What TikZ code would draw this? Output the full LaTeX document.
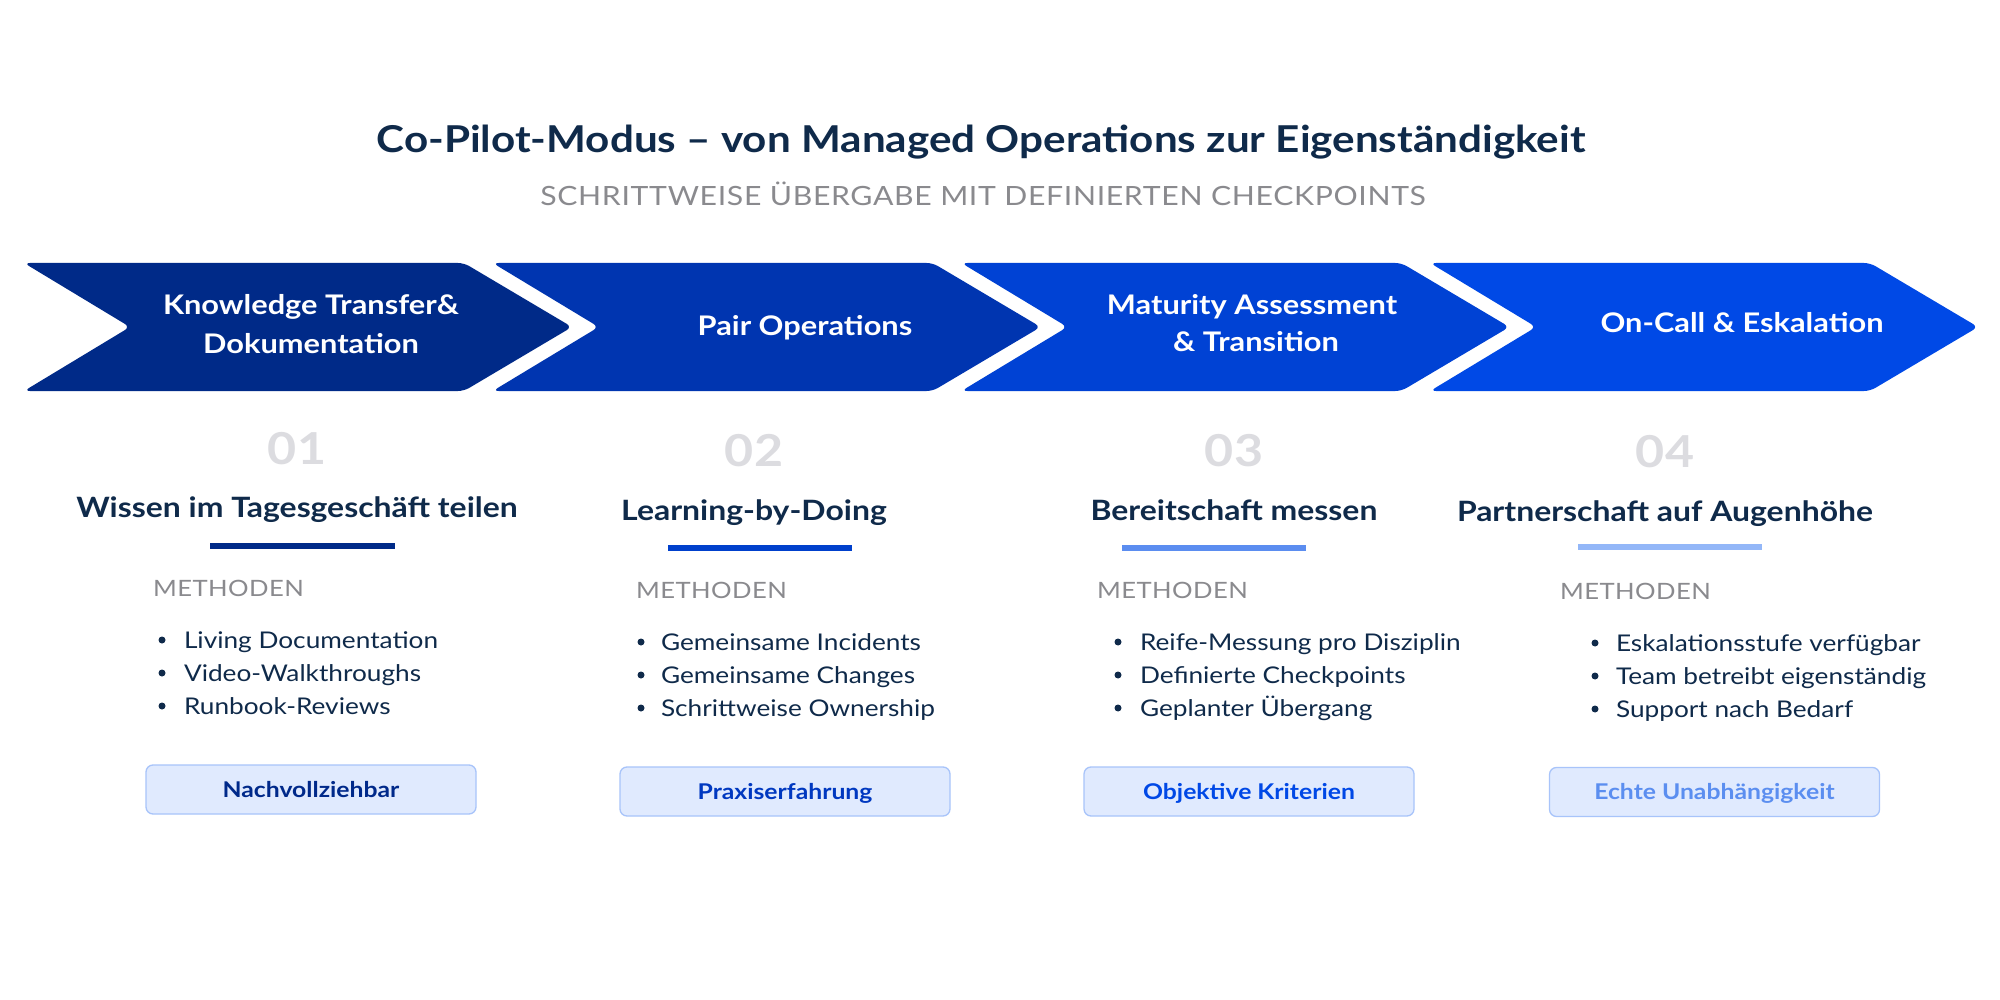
\documentclass[tikz,border=0pt]{standalone}
\usepackage{fontspec}
\setmainfont{Lato}[FakeStretch=1.14]
\definecolor{tnavy}{HTML}{0F2A4A}
\definecolor{tgray}{HTML}{8A8A8E}
\definecolor{numgray}{HTML}{DCDCE0}
\definecolor{chA}{HTML}{002A88}
\definecolor{chB}{HTML}{0035B0}
\definecolor{chC}{HTML}{0042D4}
\definecolor{chD}{HTML}{0049E6}
\definecolor{barA}{HTML}{002A88}
\definecolor{barB}{HTML}{0040CC}
\definecolor{barC}{HTML}{5B8DF0}
\definecolor{barD}{HTML}{93B7F8}
\definecolor{badgefill}{HTML}{E0EAFE}
\definecolor{badgeline}{HTML}{A8C4FA}
\definecolor{bA}{HTML}{00298A}
\definecolor{bB}{HTML}{0038C0}
\definecolor{bC}{HTML}{0048E6}
\definecolor{bD}{HTML}{5B8EF0}
\begin{document}
\begin{tikzpicture}[x=1pt,y=-1pt,
  every node/.style={inner sep=0pt, outer sep=0pt},
  titletext/.style={font=\fontsize{37}{44}\selectfont\bfseries, text=tnavy, anchor=base},
  subtext/.style={font=\fontsize{26.5}{31}\selectfont\addfontfeature{LetterSpace=2.5}, text=tgray, anchor=base},
  chevlabel/.style={font=\fontsize{27}{32}\selectfont\bfseries, text=white, anchor=base},
  numtext/.style={font=\fontsize{44}{53}\selectfont\bfseries, text=numgray, anchor=base},
  headtext/.style={font=\fontsize{28}{33}\selectfont\bfseries, text=tnavy, anchor=base},
  methtext/.style={font=\fontsize{22.5}{27}\selectfont\addfontfeature{LetterSpace=2}, text=tgray, anchor=base west},
  itemtext/.style={font=\fontsize{23}{28}\selectfont, text=tnavy, anchor=base west},
  badgebox/.style={draw=badgeline, fill=badgefill, line width=1.3pt, rounded corners=7pt,
     minimum width=330pt, minimum height=49pt, text height=15.5pt, text depth=0pt,
     font=\fontsize{21.7}{26}\selectfont\bfseries},
  dot/.style={fill=tnavy}
]
\useasboundingbox[fill=white] (0,0) rectangle (2000,1000);

% title
\node[titletext] (title) at (981,153) {Co-Pilot-Modus – von Managed Operations zur Eigenständigkeit};
\node[subtext] (subtitle) at (983,206) {SCHRITTWEISE ÜBERGABE MIT DEFINIERTEN CHECKPOINTS};

% chevrons
\foreach \L/\c in {24/chA, 492.7/chB, 961.4/chC, 1430.1/chD}{
  \fill[\c, rounded corners=6pt] (\L,263) -- (\L+440,263) -- (\L+548,327) -- (\L+440,391) -- (\L,391) -- (\L+106,327) -- cycle;
}
\node[chevlabel] (c1a) at (311,315) {Knowledge Transfer\&};
\node[chevlabel] (c1b) at (311,353) {Dokumentation};
\node[chevlabel] (c2) at (805,335) {Pair Operations};
\node[chevlabel] (c3a) at (1252,315) {Maturity Assessment};
\node[chevlabel] (c3b) at (1256,352) {\& Transition};
\node[chevlabel] (c4) at (1742,332) {On-Call \& Eskalation};

% column 1
\node[numtext] (n1) at (297,464) {01};
\node[headtext] (h1) at (297,517) {Wissen im Tagesgeschäft teilen};
\fill[barA] (210,543) rectangle (395,549);
\node[methtext] (m1) at (153,596) {METHODEN};
\fill[dot] (162,640) circle (3.5);
\fill[dot] (162,673) circle (3.5);
\fill[dot] (162,706) circle (3.5);
\node[itemtext] (i11) at (184,648) {Living Documentation};
\node[itemtext] (i12) at (184,681) {Video-Walkthroughs};
\node[itemtext] (i13) at (184,714) {Runbook-Reviews};
\node[badgebox, text=bA] (b1) at (311,789.5) {Nachvollziehbar};

% column 2
\node[numtext] (n2) at (754,466) {02};
\node[headtext] (h2) at (754,520) {Learning-by-Doing};
\fill[barB] (668,545) rectangle (852,551);
\node[methtext] (m2) at (636,598) {METHODEN};
\fill[dot] (641,642) circle (3.5);
\fill[dot] (641,675) circle (3.5);
\fill[dot] (641,708) circle (3.5);
\node[itemtext] (i21) at (661,650) {Gemeinsame Incidents};
\node[itemtext] (i22) at (661,683) {Gemeinsame Changes};
\node[itemtext] (i23) at (661,716) {Schrittweise Ownership};
\node[badgebox, text=bB] (b2) at (785,791.5) {Praxiserfahrung};

% column 3
\node[numtext] (n3) at (1234,466) {03};
\node[headtext] (h3) at (1234,520) {Bereitschaft messen};
\fill[barC] (1122,545) rectangle (1306,551);
\node[methtext] (m3) at (1097,598) {METHODEN};
\fill[dot] (1118,642) circle (3.5);
\fill[dot] (1118,675) circle (3.5);
\fill[dot] (1118,708) circle (3.5);
\node[itemtext] (i31) at (1140,650) {Reife-Messung pro Disziplin};
\node[itemtext] (i32) at (1140,683) {Definierte Checkpoints};
\node[itemtext] (i33) at (1140,716) {Geplanter Übergang};
\node[badgebox, text=bC] (b3) at (1249,791.5) {Objektive Kriterien};

% column 4
\node[numtext] (n4) at (1665,467) {04};
\node[headtext] (h4) at (1665,521) {Partnerschaft auf Augenhöhe};
\fill[barD] (1578,544) rectangle (1762,550);
\node[methtext] (m4) at (1560,599) {METHODEN};
\fill[dot] (1595,643) circle (3.5);
\fill[dot] (1595,676) circle (3.5);
\fill[dot] (1595,709) circle (3.5);
\node[itemtext] (i41) at (1616,651) {Eskalationsstufe verfügbar};
\node[itemtext] (i42) at (1616,684) {Team betreibt eigenständig};
\node[itemtext] (i43) at (1616,717) {Support nach Bedarf};
\node[badgebox, text=bD] (b4) at (1714.5,792) {Echte Unabhängigkeit};
\end{tikzpicture}
\end{document}
